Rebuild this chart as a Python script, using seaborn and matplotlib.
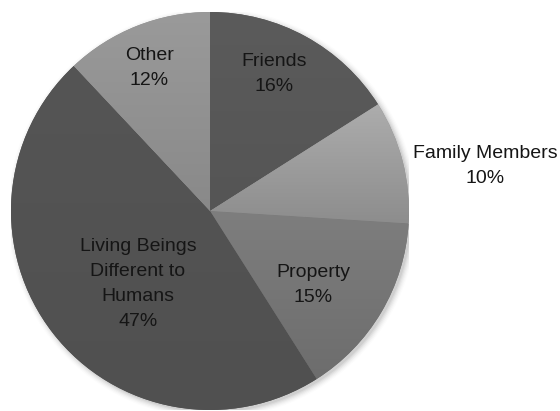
import numpy as np
import matplotlib
matplotlib.use("Agg")
import matplotlib.pyplot as plt
from matplotlib.colors import LinearSegmentedColormap
from matplotlib.patches import Ellipse
import seaborn as sns

# Shares of each category (percent), listed clockwise from 12 o'clock
categories = ["Friends", "Family Members", "Property",
              "Living Beings\nDifferent to\nHumans", "Other"]
shares = [16, 10, 15, 47, 12]

# Top / bottom shades of each slice's vertical gradient
top_colors = ["#5b5b5b", "#adadad", "#7e7e7e", "#555555", "#9a9a9a"]
bottom_colors = ["#555555", "#8d8d8d", "#6d6d6d", "#505050", "#898989"]

sns.set_theme(style="white")
plt.rcParams["font.family"] = ["Liberation Sans", "DejaVu Sans"]

W, H = 560, 411
fig = plt.figure(figsize=(W / 100, H / 100), dpi=100)
fig.patch.set_facecolor("white")
# square axes holding the pie: x 11..409 px, y 12..410 px
ax = fig.add_axes([11 / W, 1 / H, 398 / W, 398 / H])

wedges, _ = ax.pie(shares, startangle=90, counterclock=False,
                   radius=1.0, center=(0, 0),
                   wedgeprops=dict(linewidth=0, antialiased=True))
ax.set_aspect("auto")
ax.axis("off")

# soft drop shadow behind the pie
for k, a in enumerate(np.linspace(0.05, 0.012, 6)):
    grow = 1.0 + 0.006 * k
    ax.add_patch(Ellipse((0.012, -0.012), 2 * grow, 2 * grow,
                         facecolor="#000000", alpha=a, linewidth=0, zorder=0))

# vertical gradient fill for every slice
grad = np.linspace(0, 1, 256).reshape(-1, 1)
for w, ct, cb in zip(wedges, top_colors, bottom_colors):
    w.set_facecolor(cb)
    w.set_zorder(1)
    ext = w.get_path().get_extents(w.get_patch_transform())
    cmap = LinearSegmentedColormap.from_list("g", [cb, ct])
    im = ax.imshow(grad, cmap=cmap, origin="lower", aspect="auto",
                   extent=[ext.x0, ext.x1, ext.y0, ext.y1],
                   interpolation="bilinear", zorder=2)
    im.set_clip_path(w)
ax.set_xlim(-1, 1)
ax.set_ylim(-1, 1)

# label placement: radial distance and angular nudge for each slice
label_dist = [0.76, 1.40, 0.64, 0.515, 0.78]
angle_shift = [3.8, -5.1, -5.1, 7.6, 1.4]
for w, cat, pct, d, sh in zip(wedges, categories, shares, label_dist, angle_shift):
    mid = np.deg2rad((w.theta1 + w.theta2) / 2 + sh)
    x, y = d * np.cos(mid), d * np.sin(mid)
    ax.text(x, y, f"{cat}\n{pct}%", ha="center", va="center",
            fontsize=14, color="#151515", linespacing=1.6, zorder=5,
            clip_on=False)

fig.savefig("out.png", dpi=100, facecolor="white")
